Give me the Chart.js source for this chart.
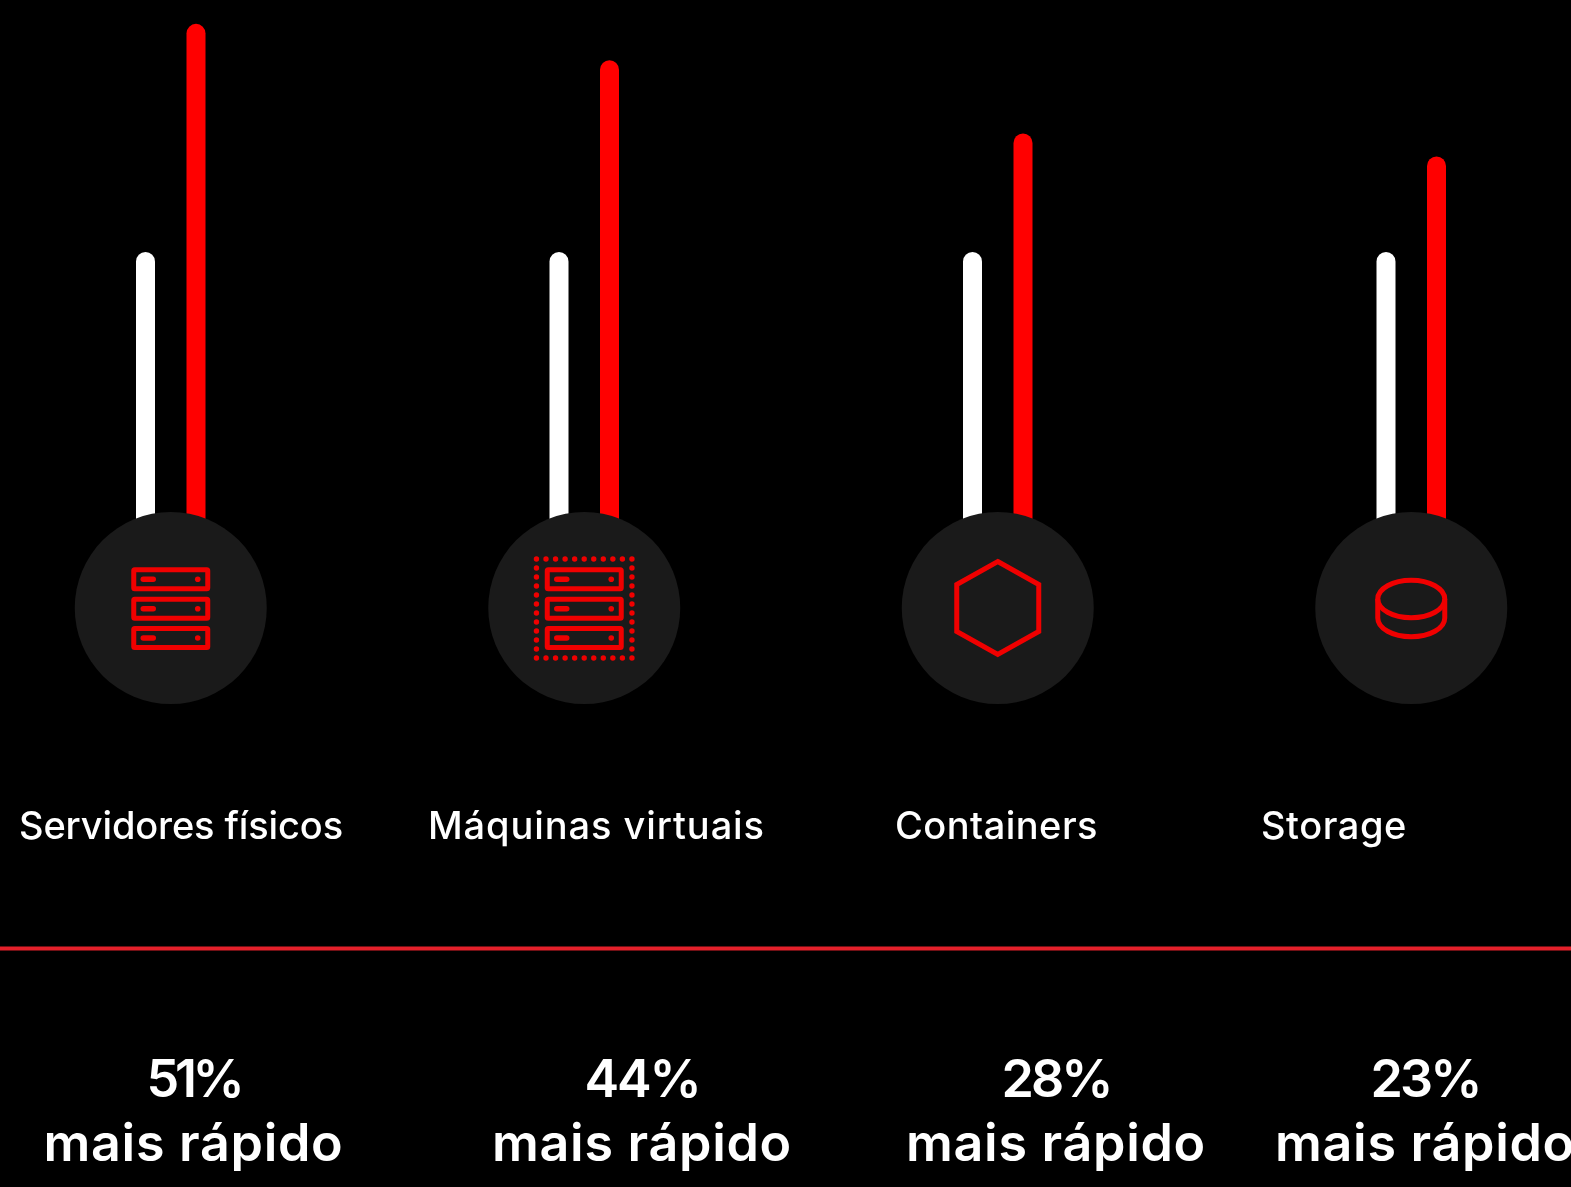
<!DOCTYPE html>
<html><head><meta charset="utf-8">
<style>html,body{margin:0;padding:0;background:#000;width:1571px;height:1187px;overflow:hidden}
#wrap{position:absolute;left:0;top:0;width:1571px;height:1187px;overflow:hidden}
canvas{position:absolute;left:-36px;top:0}</style>
<script src="https://cdn.jsdelivr.net/npm/chart.js@4"></script>
</head><body><div id="wrap"><canvas id="c" width="1654" height="1187"></canvas></div>
<script>
const categories = ["Servidores físicos","Máquinas virtuais","Containers","Storage"];
const baselineValues = [100,100,100,100];
const fasterValues = [151.5,143.3,126.75,121.56];
const percentLabels = ["51%","44%","28%","23%"];
const secondLine = "mais rápido";
const iconKinds = ["server","vm","hex","disk"];

const OFFSET = 36;
const catLeft = [19,428,895,1261], catWidth = [324,337,203,146];
const pctCenter = [193.5,642,1056,1425], pctWidth = [94,115,109,109];
const RED = "#f00000";
const FONT = '"Inter","Noto Sans",sans-serif';

function fitText(ctx,t,x,y,w,font,align){
  ctx.font = font; ctx.letterSpacing = "0px";
  const m = ctx.measureText(t).width;
  const ls = (w-m)/t.length;
  ctx.letterSpacing = ls+"px";
  ctx.textAlign = "left"; ctx.textBaseline = "alphabetic"; ctx.fillStyle = "#fff";
  const left = align==="center" ? x-w/2 : x;
  ctx.fillText(t,left+OFFSET,y);
  ctx.letterSpacing = "0px";
}
function serverRows(ctx,cx){
  [579.2,608.7,638].forEach(y=>{
    ctx.lineWidth=5;
    ctx.beginPath();ctx.roundRect(cx-37,y-9.5,74,19,1);ctx.stroke();
    ctx.lineWidth=5.5;ctx.lineCap="round";
    ctx.beginPath();ctx.moveTo(cx-27.5,y);ctx.lineTo(cx-17.5,y);ctx.stroke();ctx.lineCap="butt";
    ctx.beginPath();ctx.arc(cx+27,y,2.8,0,7);ctx.fill();
  });
}
const icons = {
  server(ctx,cx){serverRows(ctx,cx);},
  vm(ctx,cx){
    serverRows(ctx,cx);
    for(let i=0;i<=10;i++)for(const y of [559,658]){ctx.beginPath();ctx.arc(cx-47.8+i*9.55,y,2.7,0,7);ctx.fill();}
    for(let i=1;i<11;i++)for(const x of [-47.8,47.7]){ctx.beginPath();ctx.arc(cx+x,559+i*9,2.7,0,7);ctx.fill();}
  },
  hex(ctx,cx){
    const cy=608,R=46.5,dx=41,dy=23.5;
    ctx.lineWidth=5;ctx.lineJoin="miter";
    ctx.beginPath();ctx.moveTo(cx,cy-R);ctx.lineTo(cx+dx,cy-dy);ctx.lineTo(cx+dx,cy+dy);
    ctx.lineTo(cx,cy+R);ctx.lineTo(cx-dx,cy+dy);ctx.lineTo(cx-dx,cy-dy);ctx.closePath();ctx.stroke();
  },
  disk(ctx,cx){
    const rx=33.5,ry=18.8,y1=599,y2=618;
    ctx.lineWidth=5;
    ctx.beginPath();ctx.ellipse(cx,y1,rx,ry,0,0,Math.PI*2);ctx.stroke();
    ctx.beginPath();ctx.moveTo(cx-rx,y1);ctx.lineTo(cx-rx,y2);ctx.ellipse(cx,y2,rx,ry,0,Math.PI,0,true);ctx.lineTo(cx+rx,y1);ctx.stroke();
  }
};
const overlay = {
  id:"overlay",
  afterDatasetsDraw(chart){
    const ctx=chart.ctx,xs=chart.scales.x;
    ctx.save();
    categories.forEach((c,i)=>{
      const cx=xs.getPixelForValue(i);
      ctx.fillStyle="#1a1a1a";
      ctx.beginPath();ctx.arc(cx,608,96,0,Math.PI*2);ctx.fill();
      ctx.strokeStyle=RED;ctx.fillStyle=RED;
      icons[iconKinds[i]](ctx,cx);
      fitText(ctx,c,catLeft[i],839,catWidth[i],'500 38px '+FONT,"left");
      fitText(ctx,percentLabels[i],pctCenter[i],1097,pctWidth[i],'600 52px '+FONT,"center");
      fitText(ctx,secondLine,pctCenter[i],1161,300,'600 52px '+FONT,"center");
    });
    ctx.fillStyle="#e3202a";
    ctx.fillRect(0,946.5,chart.width,4);
    ctx.restore();
  }
};
const Y_MAX = 695/4.43;
new Chart(document.getElementById("c"),{
  type:"bar",
  data:{labels:categories,datasets:[
    {label:"Base",data:baselineValues,backgroundColor:"#ffffff"},
    {label:"Mais rápido",data:fasterValues,backgroundColor:"#ff0000"}
  ]},
  options:{
    responsive:false,animation:false,
    layout:{padding:{top:0,left:0,right:0,bottom:492}},
    datasets:{bar:{categoryPercentage:101/413.5,barPercentage:19/50.5,borderRadius:{topLeft:9.5,topRight:9.5},borderSkipped:false,borderWidth:0}},
    plugins:{legend:{display:false},tooltip:{enabled:false},title:{display:false}},
    scales:{
      x:{display:false,grid:{display:false}},
      y:{display:false,min:0,max:Y_MAX,grid:{display:false}}
    }
  },
  plugins:[overlay]
});
</script></body></html>
